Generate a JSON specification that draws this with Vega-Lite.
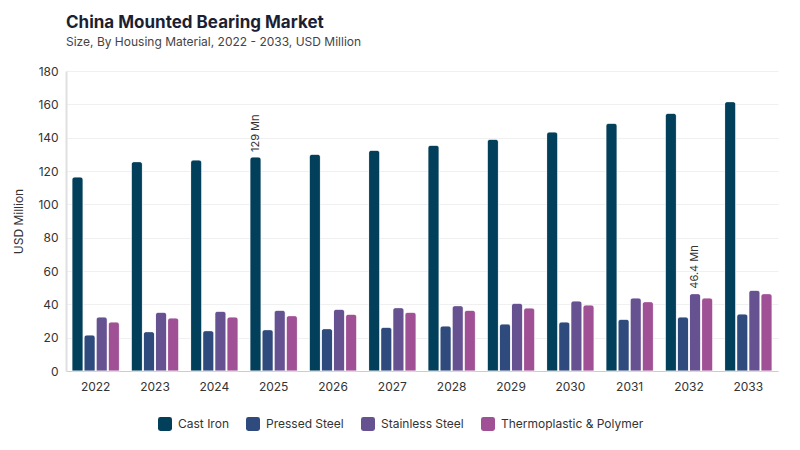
{
  "$schema": "https://vega.github.io/schema/vega-lite/v6.json",
  "width": 712,
  "height": 300,
  "padding": {"left": 12, "top": 14, "right": 20, "bottom": 10},
  "background": "white",
  "config": {
    "font": "Inter",
    "view": {"stroke": null},
    "axis": {"labelFont": "Inter", "titleFont": "Inter"}
  },
  "title": {
    "text": "China Mounted Bearing Market",
    "subtitle": "Size, By Housing Material, 2022 - 2033, USD Million",
    "anchor": "start",
    "frame": "group",
    "fontSize": 17,
    "fontWeight": "bold",
    "color": "#1c1f33",
    "subtitleFontSize": 12,
    "subtitleColor": "#444444",
    "subtitlePadding": 5,
    "offset": 16
  },
  "data": {
    "values": [
      {"year": "2022", "material": "Cast Iron", "value": 116.4},
      {"year": "2022", "material": "Pressed Steel", "value": 21.6},
      {"year": "2022", "material": "Stainless Steel", "value": 32.4},
      {"year": "2022", "material": "Thermoplastic & Polymer", "value": 29.4},
      {"year": "2023", "material": "Cast Iron", "value": 125.6},
      {"year": "2023", "material": "Pressed Steel", "value": 23.6},
      {"year": "2023", "material": "Stainless Steel", "value": 35.2},
      {"year": "2023", "material": "Thermoplastic & Polymer", "value": 31.8},
      {"year": "2024", "material": "Cast Iron", "value": 126.6},
      {"year": "2024", "material": "Pressed Steel", "value": 24.2},
      {"year": "2024", "material": "Stainless Steel", "value": 35.8},
      {"year": "2024", "material": "Thermoplastic & Polymer", "value": 32.4},
      {"year": "2025", "material": "Cast Iron", "value": 128.4, "label": "129 Mn"},
      {"year": "2025", "material": "Pressed Steel", "value": 24.8},
      {"year": "2025", "material": "Stainless Steel", "value": 36.4},
      {"year": "2025", "material": "Thermoplastic & Polymer", "value": 33.2},
      {"year": "2026", "material": "Cast Iron", "value": 130.0},
      {"year": "2026", "material": "Pressed Steel", "value": 25.4},
      {"year": "2026", "material": "Stainless Steel", "value": 37.0},
      {"year": "2026", "material": "Thermoplastic & Polymer", "value": 34.1},
      {"year": "2027", "material": "Cast Iron", "value": 132.4},
      {"year": "2027", "material": "Pressed Steel", "value": 26.2},
      {"year": "2027", "material": "Stainless Steel", "value": 38.0},
      {"year": "2027", "material": "Thermoplastic & Polymer", "value": 35.2},
      {"year": "2028", "material": "Cast Iron", "value": 135.4},
      {"year": "2028", "material": "Pressed Steel", "value": 27.0},
      {"year": "2028", "material": "Stainless Steel", "value": 39.2},
      {"year": "2028", "material": "Thermoplastic & Polymer", "value": 36.4},
      {"year": "2029", "material": "Cast Iron", "value": 139.0},
      {"year": "2029", "material": "Pressed Steel", "value": 28.2},
      {"year": "2029", "material": "Stainless Steel", "value": 40.6},
      {"year": "2029", "material": "Thermoplastic & Polymer", "value": 37.8},
      {"year": "2030", "material": "Cast Iron", "value": 143.4},
      {"year": "2030", "material": "Pressed Steel", "value": 29.4},
      {"year": "2030", "material": "Stainless Steel", "value": 42.0},
      {"year": "2030", "material": "Thermoplastic & Polymer", "value": 39.6},
      {"year": "2031", "material": "Cast Iron", "value": 148.6},
      {"year": "2031", "material": "Pressed Steel", "value": 31.0},
      {"year": "2031", "material": "Stainless Steel", "value": 43.8},
      {"year": "2031", "material": "Thermoplastic & Polymer", "value": 41.6},
      {"year": "2032", "material": "Cast Iron", "value": 154.6},
      {"year": "2032", "material": "Pressed Steel", "value": 32.4},
      {"year": "2032", "material": "Stainless Steel", "value": 46.4, "label": "46.4 Mn"},
      {"year": "2032", "material": "Thermoplastic & Polymer", "value": 43.8},
      {"year": "2033", "material": "Cast Iron", "value": 161.6},
      {"year": "2033", "material": "Pressed Steel", "value": 34.2},
      {"year": "2033", "material": "Stainless Steel", "value": 48.4},
      {"year": "2033", "material": "Thermoplastic & Polymer", "value": 46.4}
    ]
  },
  "encoding": {
    "x": {
      "field": "year",
      "type": "nominal",
      "scale": {"paddingInner": 0.2, "paddingOuter": 0.1},
      "axis": {
        "title": null,
        "labelAngle": 0,
        "labelFontSize": 12,
        "labelColor": "#333333",
        "labelPadding": 10,
        "domainColor": "#cccccc",
        "ticks": false
      }
    },
    "xOffset": {
      "field": "material",
      "type": "nominal",
      "scale": {"paddingInner": 0.08},
      "sort": ["Cast Iron", "Pressed Steel", "Stainless Steel", "Thermoplastic & Polymer"]
    },
    "y": {
      "field": "value",
      "type": "quantitative",
      "scale": {"domain": [0, 180]},
      "axis": {
        "title": "USD Million",
        "titleFontSize": 12,
        "titleFontWeight": "normal",
        "titleColor": "#333333",
        "titlePadding": 12,
        "labelFontSize": 12,
        "labelColor": "#333333",
        "labelPadding": 8,
        "labelOverlap": false,
        "values": [0, 20, 40, 60, 80, 100, 120, 140, 160, 180],
        "ticks": false,
        "domain": true,
        "domainColor": "#e0e0e0",
        "domainWidth": 2,
        "gridColor": "#f0f0f0"
      }
    }
  },
  "layer": [
    {
      "mark": {"type": "bar", "cornerRadiusTopLeft": 3, "cornerRadiusTopRight": 3, "stroke": "white", "strokeWidth": 0.5},
      "encoding": {
        "color": {
          "field": "material",
          "type": "nominal",
          "sort": ["Cast Iron", "Pressed Steel", "Stainless Steel", "Thermoplastic & Polymer"],
          "scale": {
            "domain": ["Cast Iron", "Pressed Steel", "Stainless Steel", "Thermoplastic & Polymer"],
            "range": ["#023f5b", "#2f4a7c", "#665191", "#a05195"]
          },
          "legend": {
            "title": null,
            "orient": "none",
            "legendX": 92,
            "legendY": 346,
            "direction": "horizontal",
            "symbolType": "M-0.65,-1H0.65Q1,-1 1,-0.65V0.65Q1,1 0.65,1H-0.65Q-1,1 -1,0.65V-0.65Q-1,-1 -0.65,-1Z",
            "symbolSize": 196,
            "symbolStrokeWidth": 0,
            "labelFontSize": 12,
            "labelColor": "#333333",
            "labelOffset": 6,
            "columnPadding": 17
          }
        }
      }
    },
    {
      "transform": [{"filter": "isValid(datum.label)"}],
      "mark": {"type": "text", "angle": 270, "align": "left", "baseline": "middle", "dx": 5, "fontSize": 11, "color": "#333333"},
      "encoding": {
        "text": {"field": "label"}
      }
    }
  ]
}
